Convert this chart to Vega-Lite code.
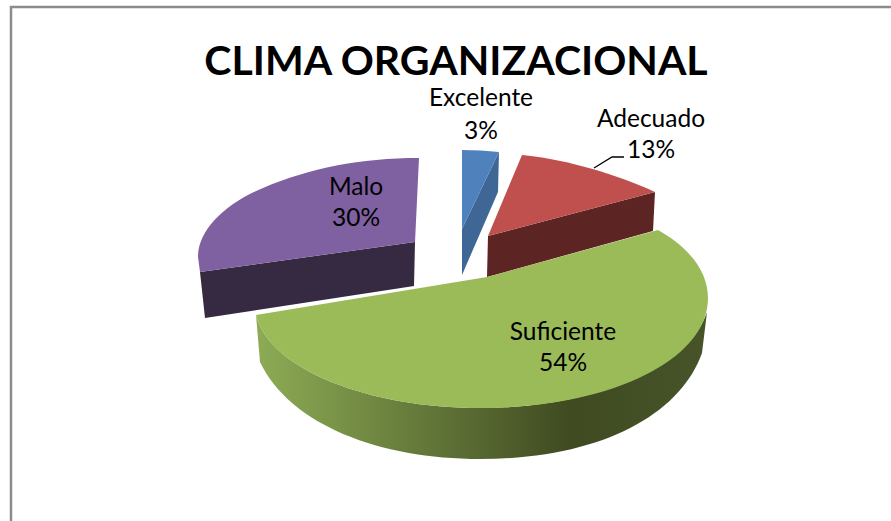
{
"$schema":"https://vega.github.io/schema/vega-lite/v6.json",
"width":900,"height":530,
"autosize":{"type":"none"},
"padding":{"left":11,"top":7,"right":0,"bottom":0},
"background":"white",
"view":{"stroke":"#8c8c8c","strokeWidth":2.5,"fill":"white"},
"title":{"text":"CLIMA ORGANIZACIONAL","font":"Lato","fontSize":41,"fontWeight":"bold","color":"#000000","anchor":"middle","frame":"group","baseline":"alphabetic","offset":-109,"dx":-5},
"data":{"values":[
{"categoria":"Excelente","valor":3,"etiqueta":"Excelente\n3%"},
{"categoria":"Adecuado","valor":13,"etiqueta":"Adecuado\n13%"},
{"categoria":"Suficiente","valor":54,"etiqueta":"Suficiente\n54%"},
{"categoria":"Malo","valor":30,"etiqueta":"Malo\n30%"}
]},
"resolve":{"scale":{"shape":"independent","fill":"independent"}},
"layer":[
{"transform":[{"filter":"datum.categoria !== 'Suficiente'"}],
 "mark":{"type":"point","filled":true,"size":4,"opacity":1,"strokeWidth":0},
 "encoding":{
  "shape":{"field":"categoria","type":"nominal","legend":null,"scale":{"domain":["Malo","Adecuado","Excelente"],"range":["M-261 0 L-46 -30 L-47 14 L-256 46 Z","M27 -36 L194 -80 L192 -41 L26 5 Z","M38 -120 L37 -80 L1 3 L1 -43 Z"]}},
  "fill":{"field":"categoria","type":"nominal","legend":null,"scale":{"domain":["Malo","Adecuado","Excelente"],"range":["#352a42","#5c2524","#3e6796"]}}
 }},
{"transform":[{"filter":"datum.categoria !== 'Suficiente'"}],
 "mark":{"type":"point","filled":true,"size":4,"opacity":1,"strokeWidth":0},
 "encoding":{
  "shape":{"field":"categoria","type":"nominal","legend":null,"scale":{"domain":["Malo","Adecuado","Excelente"],"range":["M-42 -114 C-101 -114 -151 -104 -198 -84 C-236 -68 -263 -42 -263 -15 L-261 0 L-46 -30 Z","M61 -117 C109 -112 157 -97 194 -80 L27 -36 Z","M1 -122 Q20 -122 38 -120 L1 -43 Z"]}},
  "fill":{"field":"categoria","type":"nominal","legend":null,"scale":{"domain":["Malo","Adecuado","Excelente"],"range":["#7f60a0","#c0504d","#4f81bd"]}}
 }},
{"transform":[{"filter":"datum.categoria === 'Suficiente'"}],
 "mark":{"type":"point","filled":true,"size":4,"opacity":1,"strokeWidth":0,
  "fill":{"gradient":"linear","x1":0,"y1":0,"x2":1,"y2":0,"stops":[{"offset":0,"color":"#8dac55"},{"offset":0.7,"color":"#3f4a21"},{"offset":1,"color":"#47542a"}]}},
 "encoding":{
  "shape":{"field":"categoria","type":"nominal","legend":null,"scale":{"domain":["Suficiente"],"range":["M-205 43 C-191 98 -91 136 19 136 C139 136 229 93 246 40 L241 81 C219 143 139 187 19 187 C-81 187 -171 153 -201 90 Z"]}}
 }},
{"transform":[{"filter":"datum.categoria === 'Suficiente'"}],
 "mark":{"type":"point","filled":true,"size":4,"opacity":1,"strokeWidth":0,"fill":"#9bbb59"},
 "encoding":{
  "shape":{"field":"categoria","type":"nominal","legend":null,"scale":{"domain":["Suficiente"],"range":["M26 5 L197 -42 C229 -24 247 0 247 26 C247 88 149 136 19 136 C-91 136 -191 98 -205 43 Z"]}}
 }},
{"transform":[{"filter":"datum.categoria === 'Adecuado'"}],
 "mark":{"type":"point","filled":false,"size":4,"opacity":1,"stroke":"#000000","strokeWidth":1.3},
 "encoding":{
  "shape":{"field":"categoria","type":"nominal","legend":null,"scale":{"domain":["Adecuado"],"range":["M133 -104 L151 -115 L163 -115"]}}
 }},
{"transform":[{"filter":"datum.categoria === 'Excelente'"}],
 "mark":{"type":"text","font":"Lato","fontSize":24.5,"color":"#000000","lineBreak":"\n","lineHeight":33,"dx":20,"dy":-173},
 "encoding":{"text":{"field":"etiqueta","type":"nominal"}}},
{"transform":[{"filter":"datum.categoria === 'Adecuado'"}],
 "mark":{"type":"text","font":"Lato","fontSize":24.5,"color":"#000000","lineBreak":"\n","lineHeight":31,"dx":190,"dy":-152},
 "encoding":{"text":{"field":"etiqueta","type":"nominal"}}},
{"transform":[{"filter":"datum.categoria === 'Malo'"}],
 "mark":{"type":"text","font":"Lato","fontSize":24.5,"color":"#000000","lineBreak":"\n","lineHeight":31,"dx":-105,"dy":-84},
 "encoding":{"text":{"field":"etiqueta","type":"nominal"}}},
{"transform":[{"filter":"datum.categoria === 'Suficiente'"}],
 "mark":{"type":"text","font":"Lato","fontSize":24.5,"color":"#000000","lineBreak":"\n","lineHeight":31,"dx":102,"dy":61},
 "encoding":{"text":{"field":"etiqueta","type":"nominal"}}}
]
}
